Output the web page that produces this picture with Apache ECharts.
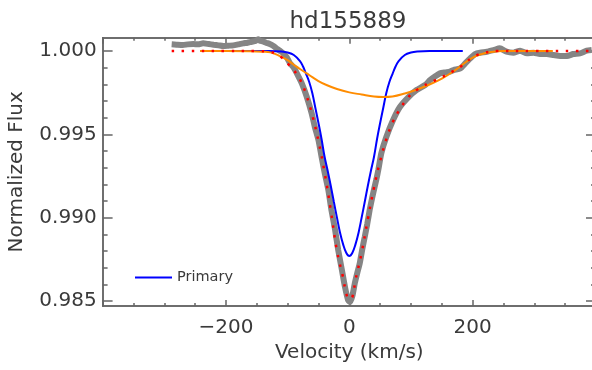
<!DOCTYPE html>
<html>
<head>
<meta charset="utf-8">
<script src="https://cdn.jsdelivr.net/npm/echarts@6/dist/echarts.min.js"></script>
<style>
html,body{margin:0;padding:0;background:#fff;}
#c{width:592px;height:370px;}
</style>
</head>
<body>
<div id="c"></div>
<script>
// ---- data ----
const titleText = 'hd155889';
const xName = 'Velocity (km/s)';
const yName = 'Normalized Flux';
const xTickLabels = [-200, 0, 200];
const yTickLabels = [0.985, 0.990, 0.995, 1.000];
const yMinorTicks = [0.985,0.986,0.987,0.988,0.989,0.990,0.991,0.992,0.993,0.994,0.995,0.996,0.997,0.998,0.999,1.000];

// observed spectrum (grey)
const grayV = [-288,-280,-270,-262,-253,-245,-237,-228,-220,-212,-204,-196,-188,-180,-172,-165,-158,-152,-148,-145,-140,-135,-129,-123,-118,-112,-107,-101,-96,-90,-85,-77,-69,-61,-56,-50,-45,-40,-34,-29,-23,-18,-12,-7,-2,1,5,9,13,17,21,25,29,33,37,41,44,47,52,60,71,82,96,109,123,131,140,147,155,163,169,180,188,196,204,212,223,234,244,255,266,277,288,299,309,320,331,342,353,363,374,385,393];
const grayF = [1.00040,1.00038,1.00036,1.00040,1.00042,1.00040,1.00046,1.00042,1.00038,1.00034,1.00030,1.00032,1.00034,1.00040,1.00046,1.00050,1.00056,1.00060,1.00070,1.00062,1.00058,1.00050,1.00042,1.00030,1.00016,1.00000,0.99986,0.99960,0.99926,0.99900,0.99866,0.99806,0.99726,0.99626,0.99546,0.99466,0.99366,0.99270,0.99166,0.99046,0.98926,0.98806,0.98686,0.98584,0.98506,0.98494,0.98530,0.98608,0.98670,0.98728,0.98810,0.98884,0.98960,0.99046,0.99118,0.99184,0.99232,0.99286,0.99388,0.99484,0.99586,0.99664,0.99724,0.99766,0.99796,0.99826,0.99850,0.99866,0.99872,0.99876,0.99886,0.99896,0.99926,0.99956,0.99982,0.99990,0.99996,1.00006,1.00016,0.99996,0.99990,1.00002,0.99986,0.99990,0.99982,0.99982,0.99976,0.99970,0.99970,0.99982,0.99986,1.00002,1.00006];

// primary component (blue)
const blueV = [-242,-200,-160,-130,-110,-100,-90,-80,-75,-70,-65,-60,-55,-50,-45,-40,-35,-30,-25,-20,-15,-10,-5,0,5,10,15,20,25,30,35,40,45,50,55,60,65,70,75,80,90,100,110,130,160,184];
const blueF = [1,1,1,1,0.99997,0.99991,0.99976,0.99940,0.99907,0.99862,0.99814,0.99748,0.99658,0.99568,0.99472,0.99364,0.99280,0.99190,0.99094,0.99000,0.98910,0.98840,0.98790,0.98770,0.98790,0.98840,0.98910,0.99000,0.99094,0.99190,0.99280,0.99364,0.99472,0.99568,0.99658,0.99748,0.99814,0.99862,0.99907,0.99940,0.99976,0.99991,0.99997,1,1,1];

// secondary component (orange)
const orangeV = [-242,-200,-160,-140,-128,-115,-100,-90,-80,-69,-60,-50,-37,-20,0,20,40,55,70,90,110,130,150,170,185,200,215,230,250,290,330];
const orangeF = [1.00000,1.00000,0.99999,0.99996,0.99992,0.99974,0.99945,0.99918,0.99892,0.99866,0.99843,0.99820,0.99796,0.99772,0.99752,0.99739,0.99727,0.99724,0.99727,0.99745,0.99769,0.99799,0.99835,0.99880,0.99922,0.99961,0.99982,0.99994,1.00000,1.00000,1.00000];

// total fit (red dotted)
const redV = [-288,-250,-200,-150,-130,-120,-110,-100,-90,-80,-70,-60,-50,-40,-30,-20,-10,-5,0,5,10,20,30,40,50,60,70,80,90,100,110,120,130,140,150,160,170,180,190,200,210,220,230,240,300,350,395];
const redF = [1,1,1,1,0.99995,0.99985,0.99962,0.99925,0.99885,0.99830,0.99740,0.99615,0.99460,0.99270,0.99045,0.98800,0.98640,0.98545,0.98510,0.98525,0.98625,0.98790,0.98990,0.99180,0.99340,0.99470,0.99570,0.99640,0.99695,0.99740,0.99768,0.99790,0.99810,0.99825,0.99842,0.99862,0.99882,0.99905,0.99935,0.99962,0.99980,0.99991,0.99997,1,1,1,1];

const zip = (a, b) => a.map((v, i) => [v, b[i]]);

const FONT = 'DejaVu Sans';
const AX = '#666';
const TXT = '#3a3a3a';
const yMin = 0.9847, yMax = 1.0008;
const xMin = -400, xMax = 400;

const chart = echarts.init(document.getElementById('c'), null, {renderer: 'canvas'});

function yAx(pos, len, ticks, labels, withName) {
  const o = {
    type: 'value', position: pos, min: yMin, max: yMax,
    axisLine: {show: true, onZero: false, lineStyle: {color: AX, width: 1.5}},
    axisTick: {show: true, inside: true, length: len, customValues: ticks, lineStyle: {color: AX, width: 1.5}},
    axisLabel: labels ? {show: true, customValues: labels, formatter: v => v.toFixed(3), margin: 6,
      fontFamily: FONT, fontSize: 20, color: TXT} : {show: false},
    splitLine: {show: false}
  };
  if (withName) {
    o.name = yName; o.nameLocation = 'middle'; o.nameGap = 76; o.nameRotate = 90;
    o.nameTextStyle = {fontFamily: FONT, fontSize: 20, color: TXT};
  }
  return o;
}
function xAx(pos, len, interval, labels, withName) {
  const o = {
    type: 'value', position: pos, min: xMin, max: xMax, interval: interval,
    axisLine: {show: true, onZero: false, lineStyle: {color: AX, width: 1.5}},
    axisTick: {show: true, inside: true, length: len, lineStyle: {color: AX, width: 1.5}},
    axisLabel: labels ? {show: true, customValues: labels, formatter: v => (v < 0 ? '\u2212' + Math.abs(v) : String(v)), margin: 12,
      fontFamily: FONT, fontSize: 20, color: TXT} : {show: false},
    splitLine: {show: false}
  };
  if (withName) {
    o.name = xName; o.nameLocation = 'middle'; o.nameGap = 35;
    o.nameTextStyle = {fontFamily: FONT, fontSize: 20, color: TXT};
  }
  return o;
}

const option = {
  animation: false,
  backgroundColor: '#fff',
  title: {
    text: titleText, left: 343, top: 6, textAlign: 'center',
    textStyle: {fontFamily: FONT, fontSize: 23, fontWeight: 'normal', color: TXT}
  },
  legend: {
    data: ['Primary'], left: 130, top: 265, icon: 'rect', itemWidth: 37, itemHeight: 2,
    textStyle: {fontFamily: FONT, fontSize: 14.5, color: TXT, padding: [0, 0, 0, 0]}
  },
  grid: {left: 102.6, right: -4, top: 37.7, bottom: 64, containLabel: false, outerBoundsMode: 'none'},
  xAxis: [
    xAx('bottom', 6, 200, xTickLabels, true),
    xAx('bottom', 3, 50, null, false),
    xAx('top', 6, 200, null, false),
    xAx('top', 3, 50, null, false)
  ],
  yAxis: [
    yAx('left', 10, yTickLabels, yTickLabels, true),
    yAx('left', 5, yMinorTicks, null, false),
    yAx('right', 10, yTickLabels, null, false),
    yAx('right', 5, yMinorTicks, null, false)
  ],
  series: [
    {name: 'Observed', type: 'line', data: zip(grayV, grayF), showSymbol: false, symbol: 'none', smooth: 0.2,
      lineStyle: {color: '#858585', width: 6}, z: 2},
    {name: 'Primary', type: 'line', data: zip(blueV, blueF), showSymbol: false, symbol: 'none', smooth: 0.4,
      itemStyle: {color: '#0000ff'}, lineStyle: {color: '#0000ff', width: 2}, z: 3},
    {name: 'Secondary', type: 'line', data: zip(orangeV, orangeF), showSymbol: false, symbol: 'none', smooth: 0.4,
      lineStyle: {color: '#ff8c00', width: 2}, z: 4},
    {name: 'Fit', type: 'line', data: zip(redV, redF), showSymbol: false, symbol: 'none', smooth: 0.4,
      lineStyle: {color: '#ff0000', width: 2.5, type: [2.5, 7.5]}, z: 5}
  ]
};
chart.setOption(option);
</script>
</body>
</html>
